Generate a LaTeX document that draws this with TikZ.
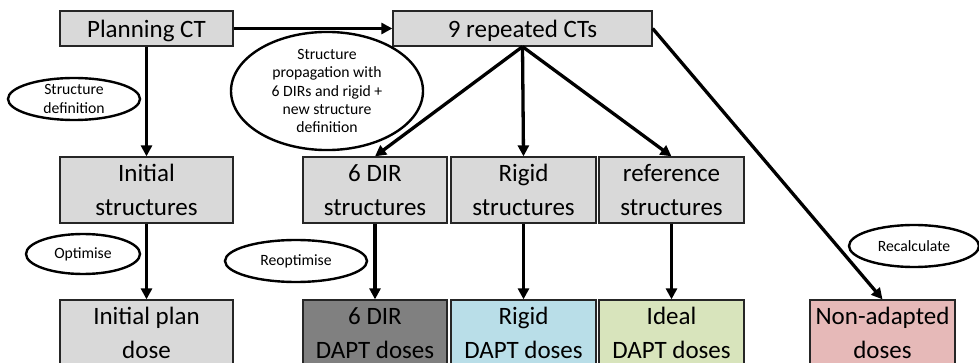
\documentclass[tikz,border=0pt]{standalone}
\usepackage{fontspec}
\setmainfont{Carlito}
\usetikzlibrary{arrows.meta,shapes.geometric}
\definecolor{boxgray}{HTML}{D9D9D9}
\definecolor{darkbox}{HTML}{808080}
\definecolor{bluebox}{HTML}{B9DEE8}
\definecolor{greenbox}{HTML}{D8E4BC}
\definecolor{pinkbox}{HTML}{E6B9B8}
\tikzset{
  bigbox/.style={draw=black!85, line width=1.3pt, rectangle, inner sep=0pt, align=center,
    font=\fontsize{25}{34}\selectfont},
  onebox/.style={bigbox, text height=17.5pt, text depth=0pt},
  bubble/.style={draw=black, line width=2.4pt, ellipse, inner sep=0pt, align=center,
    font=\fontsize{15.7}{18.3}\selectfont},
  flow/.style={line width=3.3pt, -{Triangle[length=11pt,width=11pt]}}
}
\begin{document}
\begin{tikzpicture}[x=1pt,y=-1pt]
\clip (0,0) rectangle (979,363);
\fill[white] (0,0) rectangle (979,363);
% boxes
\node[onebox, fill=boxgray, minimum width=173pt, minimum height=35pt] (plan) at (146.5,28.5) {Planning CT};
\node[onebox, fill=boxgray, minimum width=259pt, minimum height=35pt] (rep) at (522.5,28.5) {9 repeated CTs};
\node[bigbox, fill=boxgray, minimum width=173pt, minimum height=66pt] (init) at (146.5,190) {Initial\\structures};
\node[bigbox, fill=boxgray, minimum width=144pt, minimum height=66pt] (dir) at (375,190) {6 DIR\\structures};
\node[bigbox, fill=boxgray, minimum width=145pt, minimum height=66pt] (rig) at (523.5,190) {Rigid\\structures};
\node[bigbox, fill=boxgray, minimum width=145pt, minimum height=66pt] (ref) at (671.5,190) {reference\\structures};
\node[bigbox, fill=boxgray, minimum width=173pt, minimum height=66pt] (initdose) at (146.5,333) {Initial plan\\dose};
\node[bigbox, fill=darkbox, minimum width=144pt, minimum height=66pt] (dirdose) at (375,333) {6 DIR\\DAPT doses};
\node[bigbox, fill=bluebox, minimum width=145pt, minimum height=66pt] (rigdose) at (523.5,333) {Rigid\\DAPT doses};
\node[bigbox, fill=greenbox, minimum width=145pt, minimum height=66pt] (idealdose) at (671.5,333) {Ideal\\DAPT doses};
\node[bigbox, fill=pinkbox, minimum width=145pt, minimum height=66pt] (nondose) at (882.5,333) {Non-adapted\\doses};
% bubbles
\node[bubble, minimum width=132pt, minimum height=42pt] (sdef) at (74,99) {Structure\\definition};
\node[bubble, minimum width=192pt, minimum height=94pt] (prop) at (327,91) {Structure\\propagation with\\6 DIRs and rigid +\\new structure\\definition};
\node[bubble, minimum width=114pt, minimum height=40pt] (opt) at (83,254) {Optimise};
\node[bubble, minimum width=142pt, minimum height=42pt] (reopt) at (296,261) {Reoptimise};
\node[bubble, minimum width=130pt, minimum height=42pt] (recalc) at (914,246) {Recalculate};
% connectors
\draw[flow] (plan.east) -- (rep.west);
\draw[flow] (plan.south) -- (init.north);
\draw[flow] (rep.south) -- (dir.north);
\draw[flow] (rep.south) -- (rig.north);
\draw[flow] (rep.south) -- (ref.north);
\draw[flow] (rep.east) -- (nondose.north);
\draw[flow] (init.south) -- (initdose.north);
\draw[flow] (dir.south) -- (dirdose.north);
\draw[flow] (rig.south) -- (rigdose.north);
\draw[flow] (ref.south) -- (idealdose.north);
\end{tikzpicture}
\end{document}
